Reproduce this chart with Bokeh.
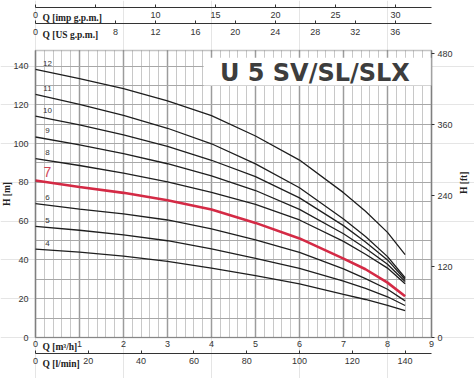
import math
from bokeh.plotting import figure
from bokeh.models import (LinearAxis, Range1d, FixedTicker, SingleIntervalTicker, Label,
                          BoxAnnotation, ColumnDataSource, Grid)
from bokeh.embed import file_html
from bokeh.resources import INLINE
from bokeh.core.properties import value

# ---------------- data ----------------
q_m3h = [0, 1, 2, 3, 4, 5, 6, 7, 7.5, 8, 8.4]
stage_names = ["4", "5", "6", "7", "8", "9", "10", "11", "12"]
h_4 = [45.6, 44.0, 42.0, 39.3, 35.8, 31.9, 27.6, 22.2, 19.6, 16.6, 13.9]
h_5 = [57.3, 55.3, 52.9, 49.9, 45.7, 40.8, 35.6, 29.1, 25.3, 21.0, 16.5]
h_6 = [69.0, 66.2, 63.8, 60.6, 56.0, 50.4, 43.9, 35.4, 30.4, 24.9, 18.9]
h_7 = [81.0, 77.6, 74.6, 70.8, 66.0, 59.1, 51.1, 40.7, 35.2, 28.3, 21.3]
h_8 = [92.2, 88.7, 84.8, 80.3, 74.8, 68.7, 60.6, 49.6, 42.9, 35.8, 27.7]
h_9 = [103.4, 99.3, 94.8, 89.6, 83.3, 75.8, 66.1, 53.5, 46.0, 37.8, 28.9]
h_10 = [114.2, 109.6, 104.5, 98.6, 91.4, 83.0, 72.0, 57.7, 49.3, 40.0, 29.9]
h_11 = [125.4, 120.2, 114.5, 107.9, 99.9, 89.5, 77.2, 61.1, 52.1, 41.7, 30.8]
h_12 = [138.3, 133.5, 128.3, 122.0, 114.4, 103.9, 91.5, 74.7, 65.1, 54.2, 42.7]
all_h = [h_4, h_5, h_6, h_7, h_8, h_9, h_10, h_11, h_12]
highlight_stage = "7"

ticks_m3h = [0, 1, 2, 3, 4, 5, 6, 7, 8, 9]
ticks_lmin = [0, 20, 40, 60, 80, 100, 120, 140]
ticks_imp = [0, 5, 10, 15, 20, 25, 30]
ticks_us = [0, 8, 12, 16, 20, 24, 28, 32, 36]
ticks_hm = [0, 20, 40, 60, 80, 100, 120, 140]
ticks_hft = [0, 120, 240, 360, 480]

title_text = "U 5 SV/SL/SLX"

# ---------------- scales / layout ----------------
Q_MAX = 9.0
H_MAX = 148.0
LMIN_PER_M3H = 1000.0 / 60.0
IMP_GPM_PER_M3H = 1.0 / 0.2727654
US_GPM_PER_M3H = 1.0 / 0.2271247
FT_PER_M = 1.0 / 0.3048

W, H = 474, 378
GRID_L, GRID_R, GRID_T, GRID_B = 35, 431, 50, 337      # chart box inside the canvas (px)
PX_Q = (GRID_R - GRID_L) / Q_MAX
PX_H = (GRID_B - GRID_T) / H_MAX
X_LEFT = -GRID_L / PX_Q
X_RIGHT = Q_MAX + (W - GRID_R) / PX_Q
Y_TOP = H_MAX + GRID_T / PX_H
Y_BOTTOM = -(H - GRID_B) / PX_H
LOC_IMP = H_MAX + 43.0 / PX_H      # top scale lines
LOC_US = H_MAX + 27.0 / PX_H
LOC_LMIN = -16.0 / PX_H

TXT = "#333333"
FONT = "Liberation Sans"
SERIF = "Liberation Serif"
RED = "#d42a45"
INK = "#222222"

p = figure(width=W, height=H, x_range=Range1d(X_LEFT, X_RIGHT), y_range=Range1d(Y_BOTTOM, Y_TOP),
           x_axis_location=None, y_axis_location=None,
           output_backend="svg", toolbar_location=None,
           min_border_left=0, min_border_right=0, min_border_top=0, min_border_bottom=0,
           outline_line_color=None,
           background_fill_color="white", border_fill_color="white")
p.extra_x_ranges = {"lmin": Range1d(X_LEFT * LMIN_PER_M3H, X_RIGHT * LMIN_PER_M3H),
                    "imp": Range1d(X_LEFT * IMP_GPM_PER_M3H, X_RIGHT * IMP_GPM_PER_M3H),
                    "us": Range1d(X_LEFT * US_GPM_PER_M3H, X_RIGHT * US_GPM_PER_M3H)}
p.extra_y_ranges = {"ft": Range1d(Y_BOTTOM * FT_PER_M, Y_TOP * FT_PER_M)}


def style(ax):
    ax.major_label_text_font = FONT
    ax.major_label_text_font_size = "9px"
    ax.major_label_text_color = TXT
    ax.minor_tick_line_color = None
    ax.major_tick_line_color = "#333333"
    ax.axis_label_text_font = SERIF
    ax.axis_label_text_font_style = "bold"
    ax.axis_label_text_font_size = "9.5px"
    ax.axis_label_text_color = INK
    return ax


# grids restricted to the chart box
p.add_layout(Grid(dimension=0, ticker=SingleIntervalTicker(interval=1, num_minor_ticks=5),
                  bounds=(0, Q_MAX), cross_bounds=(0, H_MAX),
                  grid_line_color="#9c9c9c", grid_line_width=1.5,
                  minor_grid_line_color="#c8c8c8", minor_grid_line_width=1))
p.add_layout(Grid(dimension=1, ticker=SingleIntervalTicker(interval=10, num_minor_ticks=0),
                  bounds=(0, H_MAX), cross_bounds=(0, Q_MAX),
                  grid_line_color="#a8a8a8", grid_line_width=1.2))

# left / right axes
left = style(LinearAxis(ticker=FixedTicker(ticks=ticks_hm), axis_label="H [m]", fixed_location=0,
                        bounds=(0, H_MAX), axis_line_color=None, major_tick_out=0, major_tick_in=0,
                        major_label_standoff=7, axis_label_standoff=-2))
p.add_layout(left, "left")
right = style(LinearAxis(y_range_name="ft", ticker=FixedTicker(ticks=ticks_hft), axis_label="H [ft]",
                         fixed_location=Q_MAX, bounds=(0, H_MAX * FT_PER_M),
                         axis_line_color=None, major_tick_out=3, major_tick_in=0,
                         major_label_standoff=3, axis_label_standoff=8,
                         axis_label_orientation=math.pi / 2))
p.add_layout(right, "right")

# bottom scales
ax_m3h = style(LinearAxis(ticker=FixedTicker(ticks=ticks_m3h), fixed_location=0, axis_line_color=None,
                          major_tick_out=0, major_tick_in=0, major_label_standoff=3))
p.add_layout(ax_m3h, "below")
ax_lmin = style(LinearAxis(x_range_name="lmin", ticker=FixedTicker(ticks=ticks_lmin),
                           fixed_location=LOC_LMIN, bounds=(0, Q_MAX * LMIN_PER_M3H),
                           axis_line_color="#333333", major_tick_in=3, major_tick_out=0,
                           major_label_standoff=4))
p.add_layout(ax_lmin, "below")

# top scales (line on top, labels underneath)
ax_imp = style(LinearAxis(x_range_name="imp", ticker=FixedTicker(ticks=ticks_imp),
                          fixed_location=LOC_IMP, bounds=(0, Q_MAX * IMP_GPM_PER_M3H),
                          major_label_overrides={5: ""},
                          axis_line_color="#333333", major_tick_in=3, major_tick_out=0,
                          major_label_standoff=4))
p.add_layout(ax_imp, "below")
ax_us = style(LinearAxis(x_range_name="us", ticker=FixedTicker(ticks=ticks_us),
                         fixed_location=LOC_US, bounds=(0, Q_MAX * US_GPM_PER_M3H),
                         axis_line_color="#333333", major_tick_in=3, major_tick_out=0,
                         major_label_standoff=5))
p.add_layout(ax_us, "below")

# scale names next to the zero labels
for txt, yy, yoff in [("Q [imp g.p.m.]", LOC_IMP, -10), ("Q [US g.p.m.]", LOC_US, -11),
                      ("Q [m\u00b3/h]", 0, -9), ("Q [l/min]", LOC_LMIN, -10)]:
    p.add_layout(Label(x=0, y=yy, x_offset=7, y_offset=yoff, text=txt,
                       text_font=SERIF, text_font_style="bold", text_font_size="9.5px",
                       text_color=INK, text_align="left", text_baseline="middle"))

# curves
for name, h in zip(stage_names, all_h):
    hl = name == highlight_stage
    p.line(q_m3h, h, line_color=RED if hl else "#1e1e1e", line_width=2.6 if hl else 1.3)

# stage labels
norm = [n for n in stage_names if n != highlight_stage]
src = ColumnDataSource(dict(x=[q_m3h[0]] * len(norm),
                            y=[h[0] for n, h in zip(stage_names, all_h) if n != highlight_stage],
                            t=norm))
p.text(x="x", y="y", text="t", source=src, x_offset=12, y_offset=-6,
       text_font=value(FONT), text_font_size="8px", text_color="#333333",
       text_align="center", text_baseline="middle")
hsrc = ColumnDataSource(dict(x=[q_m3h[0]], y=[all_h[stage_names.index(highlight_stage)][0]],
                             t=[highlight_stage]))
p.text(x="x", y="y", text="t", source=hsrc, x_offset=12, y_offset=-8,
       text_font=value(FONT), text_font_size="14px", text_color="#d04455",
       text_align="center", text_baseline="middle")

# title with white backing
p.add_layout(BoxAnnotation(left=3.82, right=Q_MAX, bottom=130, top=144.2,
                           fill_color="white", fill_alpha=1.0, line_color=None))
p.add_layout(Label(x=6.35, y=136.3, text=title_text, text_align="center", text_baseline="middle",
                   text_font="DejaVu Sans", text_font_style="bold", text_font_size="24px",
                   text_color="#3d3d3d"))

# chart box outline
p.add_layout(BoxAnnotation(left=0, right=Q_MAX, bottom=0, top=H_MAX, fill_color=None,
                           line_color="#3a3a3a", line_width=1.5))

open("out.html", "w").write(file_html(p, INLINE))
